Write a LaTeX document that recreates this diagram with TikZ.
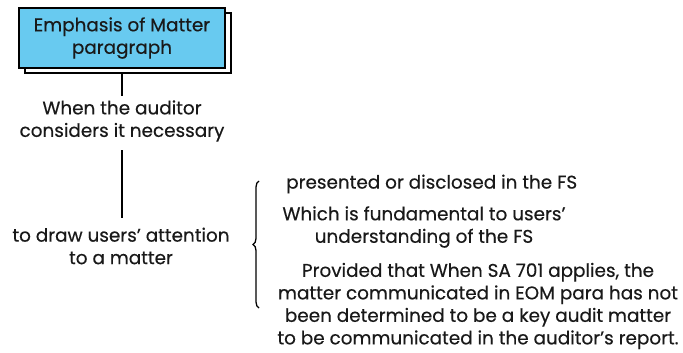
\documentclass[tikz,border=0pt]{standalone}
\usepackage{fontspec}
\setmainfont{Poppins}[FakeBold=0.4]
\usetikzlibrary{decorations.pathreplacing}
\definecolor{boxblue}{RGB}{104,202,240}
\begin{document}
\begin{tikzpicture}[x=1pt,y=-1pt,
  txt/.style={font=\fontsize{18.4}{22.5}\selectfont, align=center, inner sep=0pt, text=black!90},
  conn/.style={draw=black, line width=1.6pt}]
\useasboundingbox (0,0) rectangle (683,353);
% box with shadow
\fill[white, draw=black, line width=1.2pt] (25,13) rectangle (231,73);
\node[txt, draw=black, line width=1.2pt, fill=boxblue, minimum width=206pt, minimum height=60pt, inner sep=0pt] (eom) at (122,38) {Emphasis of Matter\\paragraph};
\node[txt] (when) at (122,121) {When the auditor\\considers it necessary};
\node[txt] (draw) at (121,246) {to draw users' attention\\to a matter};
\coordinate (w1) at (122,150);
\coordinate (w2) at (122,218);
\draw[conn] (eom.south |- 0,74) -- (when.north |- 0,96);
\draw[conn] (w1) -- (w2);
% brace
\coordinate (b1) at (259,308);
\coordinate (b2) at (259,181);
\draw[line width=1.3pt, decorate, decoration={brace, amplitude=6pt}] (b1) -- (b2);
\node[txt, anchor=west] (p1) at (286,184) {presented or disclosed in the FS};
\node[txt] (p2) at (424,227) {Which is fundamental to users'\\understanding of the FS};
\node[txt] (p3) at (478,306) {Provided that When SA 701 applies, the\\matter communicated in EOM para has not\\been determined to be a key audit matter\\to be communicated in the auditor's report.};
\end{tikzpicture}
\end{document}
